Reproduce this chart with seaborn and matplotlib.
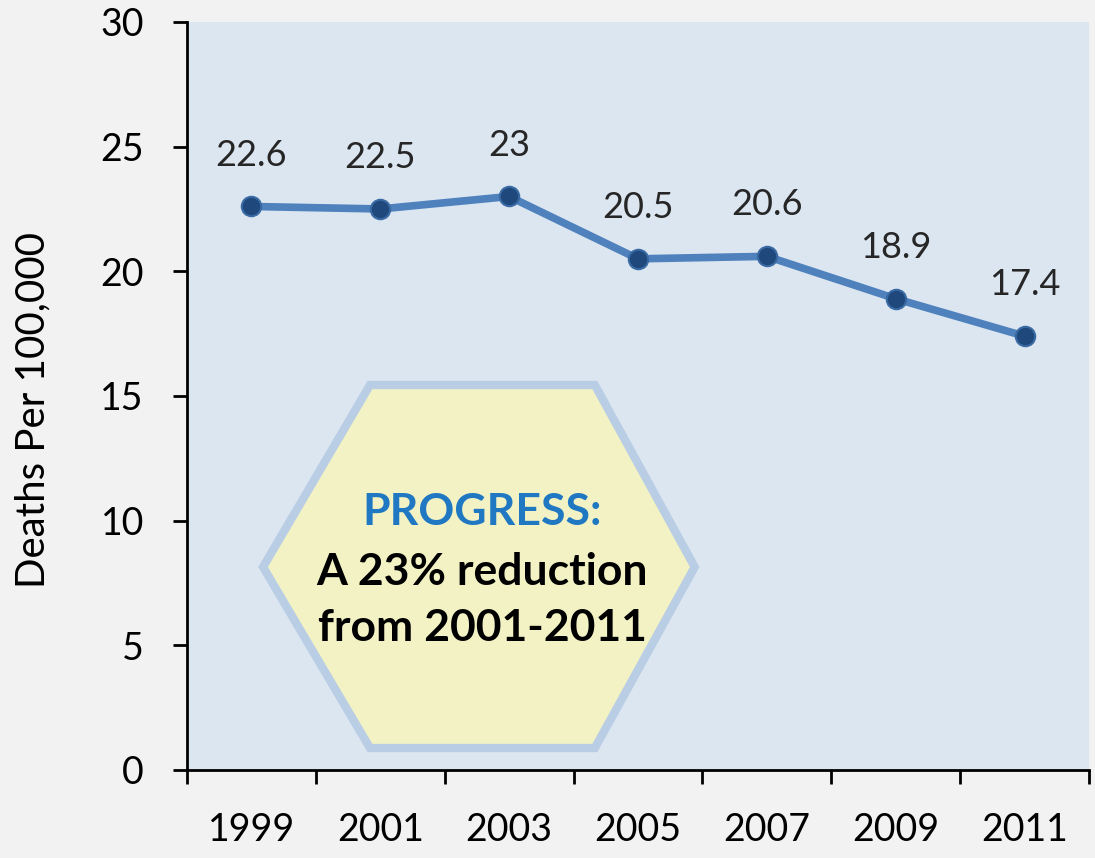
import matplotlib
matplotlib.use("Agg")
import matplotlib.pyplot as plt
from matplotlib.patches import Polygon
from matplotlib.ticker import FixedLocator, NullFormatter
import seaborn as sns
import pandas as pd

# Death rate per 100,000, every second year
years = [1999, 2001, 2003, 2005, 2007, 2009, 2011]
rates = [22.6, 22.5, 23.0, 20.5, 20.6, 18.9, 17.4]
rate_labels = ["22.6", "22.5", "23", "20.5", "20.6", "18.9", "17.4"]
y_ticks = [0, 5, 10, 15, 20, 25, 30]
y_label = "Deaths Per 100,000"
callout_lines = ["PROGRESS:", "A 23% reduction", "from 2001-2011"]

df = pd.DataFrame({"year": years, "rate": rates})

sns.set_theme(style="white")
plt.rcParams["font.family"] = ["Lato", "DejaVu Sans"]

fig = plt.figure(figsize=(10.95, 8.58), dpi=100, facecolor="#f2f2f2")
ax = fig.add_axes([0.1708, 0.1026, 0.8237, 0.8718])
ax.set_facecolor("#dce6f1")

sns.lineplot(data=df, x="year", y="rate", ax=ax, color="#4f81bd", linewidth=5.5,
             marker="o", markersize=14, markerfacecolor="#1f497d",
             markeredgecolor="#3a6aa3", markeredgewidth=1.5, zorder=5)

for x, y, lab in zip(years, rates, rate_labels):
    ax.annotate(lab, (x, y), xytext=(0, 37), textcoords="offset points",
                ha="center", va="center", fontsize=26, color="#262626")

# Hexagon callout
hexagon = Polygon([(1999.18, 8.14), (2000.84, 15.44), (2004.33, 15.44),
                   (2005.88, 8.14), (2004.33, 0.88), (2000.84, 0.88)],
                  closed=True, facecolor="#f2f2c4", edgecolor="#b9cde5",
                  linewidth=6, joinstyle="miter", zorder=3)
ax.add_patch(hexagon)
line_y = [10.35, 7.94, 5.70]
line_colors = ["#1f78c1", "#000000", "#000000"]
for txt, ty, tc in zip(callout_lines, line_y, line_colors):
    ax.text(2002.58, ty, txt, ha="center", va="center", fontsize=32,
            fontweight="bold", color=tc, zorder=4)

ax.set_xlim(1998, 2012)
ax.set_ylim(0, 30)

# Category boundaries carry the tick marks; labels sit between them
ax.xaxis.set_major_locator(FixedLocator([1998 + 2 * i for i in range(8)]))
ax.xaxis.set_major_formatter(NullFormatter())
ax.set_xticks(years, [str(y) for y in years], minor=True)
ax.tick_params(axis="x", which="major", direction="out", length=10, width=2,
               color="#000000", bottom=True)
ax.tick_params(axis="x", which="minor", length=0, pad=30, labelsize=27,
               labelcolor="#000000", bottom=True)

ax.set_yticks(y_ticks)
ax.tick_params(axis="y", direction="out", length=10, width=2, color="#000000",
               left=True, labelsize=27, labelcolor="#000000", pad=21)

ax.set_xlabel("")
ax.set_ylabel(y_label, fontsize=29, color="#000000")
ax.yaxis.set_label_coords(-0.150, 0.481)

for side in ["top", "right"]:
    ax.spines[side].set_visible(False)
for side in ["left", "bottom"]:
    ax.spines[side].set_color("#000000")
    ax.spines[side].set_linewidth(2)

fig.savefig("out.png", dpi=100, facecolor=fig.get_facecolor())
